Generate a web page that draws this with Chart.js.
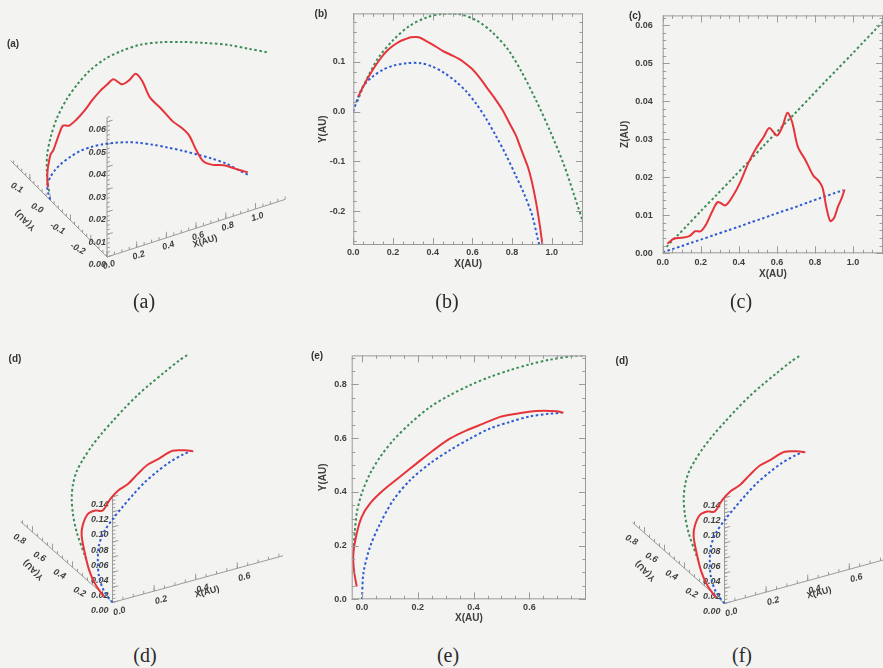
<!DOCTYPE html>
<html><head><meta charset="utf-8">
<script src="https://cdn.jsdelivr.net/npm/chart.js@4"></script>
<style>
html,body{margin:0;padding:0;background:#f3f3f1;width:883px;height:668px;overflow:hidden;position:relative}
canvas{position:absolute}
.cap{position:absolute;font-family:"Liberation Serif","DejaVu Serif",serif;font-size:20px;color:#2a2a2a;transform:translate(-50%,-50%);white-space:nowrap}
.pl{position:absolute;font-family:"Liberation Sans",Arial,sans-serif;font-weight:bold;font-size:10px;color:#333;transform:translate(-50%,-50%);white-space:nowrap}
</style></head><body>
<canvas id="ca" width="290" height="290" style="left:0;top:0"></canvas>
<canvas id="cb" width="290" height="280" style="left:300px;top:0"></canvas>
<canvas id="cc" width="288" height="285" style="left:595px;top:0"></canvas>
<canvas id="cd" width="290" height="290" style="left:0;top:340px"></canvas>
<canvas id="ce" width="295" height="290" style="left:295px;top:345px"></canvas>
<canvas id="cf" width="290" height="290" style="left:612px;top:341px"></canvas>
<div class="pl" style="left:13px;top:43px">(a)</div>
<div class="pl" style="left:321px;top:13px">(b)</div>
<div class="pl" style="left:635px;top:15px">(c)</div>
<div class="pl" style="left:15px;top:358px">(d)</div>
<div class="pl" style="left:317px;top:355px">(e)</div>
<div class="pl" style="left:622px;top:360px">(d)</div>
<div class="cap" style="left:144px;top:301px">(a)</div>
<div class="cap" style="left:447px;top:301px">(b)</div>
<div class="cap" style="left:741px;top:301px">(c)</div>
<div class="cap" style="left:145px;top:655px">(d)</div>
<div class="cap" style="left:448px;top:655px">(e)</div>
<div class="cap" style="left:742px;top:655px">(f)</div>
<script>
// ================= DATA =================
// Event 1 (panels a, b, c): X, Y, Z in AU
const ev1RedX = [0.025,0.06,0.1,0.14,0.17,0.2,0.23,0.26,0.29,0.33,0.37,0.41,0.45,0.49,0.53,0.56,0.6,0.63,0.655,0.68,0.71,0.75,0.79,0.82,0.84,0.86,0.88,0.9,0.92,0.94,0.955];
const ev1RedY = [0.03,0.058,0.085,0.108,0.122,0.132,0.14,0.145,0.149,0.149,0.141,0.132,0.122,0.114,0.106,0.098,0.085,0.071,0.058,0.044,0.028,0.004,-0.026,-0.049,-0.07,-0.091,-0.112,-0.142,-0.181,-0.23,-0.275];
const ev1RedZ = [0.0025,0.0039,0.0041,0.0045,0.0058,0.0058,0.0078,0.011,0.0135,0.0126,0.0152,0.019,0.0238,0.0276,0.0306,0.033,0.031,0.0335,0.037,0.0345,0.028,0.0245,0.0205,0.019,0.0172,0.012,0.0085,0.0093,0.0122,0.0145,0.0168];

const ev1BlueX = [0,0.02,0.05,0.1,0.15,0.2,0.27,0.34,0.4,0.46,0.52,0.57,0.62,0.67,0.72,0.77,0.82,0.86,0.9,0.93,0.948];
const ev1BlueY = [0,0.024,0.051,0.071,0.084,0.092,0.097,0.097,0.09,0.077,0.059,0.04,0.015,-0.015,-0.05,-0.088,-0.13,-0.165,-0.207,-0.257,-0.285];
const ev1BlueZ = [0.0003,0.0006,0.0011,0.0019,0.0028,0.0036,0.0048,0.006,0.007,0.0081,0.0091,0.01,0.0109,0.0117,0.0126,0.0135,0.0144,0.0151,0.0158,0.0163,0.0166];

const ev1GreenX = [0.02,0.05,0.08,0.13,0.2,0.28,0.37,0.45,0.53,0.62,0.7,0.78,0.85,0.92,0.99,1.06,1.11,1.16];
const ev1GreenY = [0.02,0.05,0.075,0.11,0.143,0.171,0.189,0.196,0.196,0.183,0.159,0.124,0.078,0.023,-0.038,-0.106,-0.165,-0.225];
const ev1GreenZ = [0.0017,0.0033,0.0048,0.0074,0.0111,0.0152,0.0199,0.0241,0.0283,0.033,0.0371,0.0413,0.045,0.0486,0.0522,0.0559,0.0585,0.0612];

// Event 2 (panels d, e, f)
const ev2RedX = [-0.019,-0.029,-0.031,-0.019,-0.001,0.029,0.076,0.136,0.196,0.256,0.315,0.375,0.435,0.495,0.554,0.626,0.698,0.722];
const ev2RedY = [0.047,0.109,0.171,0.245,0.307,0.357,0.406,0.456,0.506,0.555,0.598,0.629,0.654,0.679,0.691,0.701,0.7,0.694];
const ev2RedZ = [0.004,0.013,0.026,0.043,0.054,0.059,0.064,0.0585,0.048,0.053,0.055,0.055,0.061,0.066,0.068,0.072,0.067,0.065];

const ev2BlueX = [0,0.005,0.029,0.065,0.112,0.172,0.244,0.315,0.387,0.459,0.53,0.602,0.674,0.716];
const ev2BlueY = [0,0.097,0.196,0.282,0.369,0.443,0.506,0.555,0.598,0.636,0.66,0.681,0.691,0.694];
const ev2BlueZ = [0,0.004,0.01,0.017,0.024,0.029,0.033,0.038,0.044,0.05,0.056,0.061,0.065,0.066];

const ev2GreenX = [-0.03,-0.019,-0.001,0.029,0.065,0.112,0.172,0.244,0.315,0.387,0.459,0.53,0.602,0.674,0.757,0.799];
const ev2GreenY = [0.2,0.32,0.394,0.468,0.53,0.592,0.654,0.716,0.76,0.797,0.828,0.853,0.875,0.892,0.906,0.908];
const ev2GreenZ = [0.036,0.058,0.072,0.082,0.09,0.096,0.1,0.105,0.112,0.119,0.127,0.135,0.142,0.149,0.158,0.162];

// Tick values
const bXTicks = [0.0,0.2,0.4,0.6,0.8,1.0];
const bYTicks = [-0.2,-0.1,0.0,0.1];
const cXTicks = [0.0,0.2,0.4,0.6,0.8,1.0];
const cYTicks = [0.00,0.01,0.02,0.03,0.04,0.05,0.06];
const eXTicks = [0.0,0.2,0.4,0.6];
const eYTicks = [0.0,0.2,0.4,0.6,0.8];
const aXTicks = [0.0,0.2,0.4,0.6,0.8,1.0];
const aYTicks = [-0.2,-0.1,0.0,0.1];
const aZTicks = [0.00,0.01,0.02,0.03,0.04,0.05,0.06];
const dXTicks = [0.0,0.2,0.4,0.6];
const dYTicks = [0.2,0.4,0.6,0.8];
const dZTicks = [0.00,0.02,0.04,0.06,0.08,0.10,0.12,0.14];

// ================= STYLE =================
const RED='#e5343a', BLUE='#2f5bd2', GREEN='#3d8c58';
const AXC='#9b9b9b', TXT='#3f3f3f';
const SANS='"Liberation Sans", Arial, sans-serif';
function fmt(v,d){ return Math.abs(v)<1e-9?(0).toFixed(d):v.toFixed(d); }
function pts(xs,ys){ return xs.map((v,i)=>({x:v,y:ys[i]})); }
function redDs(data){return {data,borderColor:RED,borderWidth:2,pointRadius:0,tension:0.3,showLine:true,fill:false};}
function dotDs(data,c){return {data,borderColor:c,borderWidth:2,borderDash:[2.5,2.5],pointRadius:0,tension:0.3,showLine:true,fill:false};}

// ---------- 2D frame with inward ticks on four sides ----------
const FRAMES = {};
const framePlugin = {
  id:'frame2d',
  afterDraw(chart){
    const o = FRAMES[chart.canvas.id]; if(!o) return;
    const {ctx, chartArea:a} = chart; const sx=chart.scales.x, sy=chart.scales.y;
    ctx.save(); ctx.strokeStyle=AXC; ctx.lineWidth=1;
    const L=(x1,y1,x2,y2)=>{ctx.beginPath();ctx.moveTo(x1,y1);ctx.lineTo(x2,y2);ctx.stroke();};
    ctx.strokeRect(a.left+0.5,a.top+0.5,a.width-1,a.height-1);
    const xt=(v,len)=>{const p=Math.round(sx.getPixelForValue(v))+0.5; if(p<a.left||p>a.right) return; L(p,a.bottom,p,a.bottom-len); L(p,a.top,p,a.top+len);};
    const yt=(v,len)=>{const p=Math.round(sy.getPixelForValue(v))+0.5; if(p<a.top-0.5||p>a.bottom+0.5) return; L(a.left,p,a.left+len,p); L(a.right,p,a.right-len,p);};
    const st=(mn,mx,step,f,len)=>{ for(let k=Math.ceil(mn/step-1e-6);k*step<=mx+1e-9;k++) f(k*step,len); };
    st(sx.min,sx.max,o.xMinor,xt,3.5); st(sy.min,sy.max,o.yMinor,yt,3.5);
    o.xTicks.forEach(v=>xt(v,7)); o.yTicks.forEach(v=>yt(v,7));
    ctx.restore();
  }
};

function chart2D(id,c){
  FRAMES[id]={xTicks:c.xTicks,yTicks:c.yTicks,xMinor:c.xMinor,yMinor:c.yMinor};
  const tf={family:SANS,weight:'bold',size:9};
  const titleF={family:SANS,weight:'bold',size:10};
  return new Chart(document.getElementById(id),{
    type:'scatter',
    data:{datasets:c.datasets},
    options:{
      responsive:false,animation:false,devicePixelRatio:1,
      layout:{padding:c.pad},
      plugins:{legend:{display:false},tooltip:{enabled:false}},
      scales:{
        x:{type:'linear',min:c.xr[0],max:c.xr[1],grid:{display:false,drawTicks:false},border:{display:false},
          ticks:{font:tf,color:TXT,padding:c.xPad,maxRotation:0,autoSkip:false,callback:v=>fmt(v,c.xDec)},
          afterBuildTicks:s=>{s.ticks=c.xTicks.map(v=>({value:v}));},
          afterFit:s=>{s.height=c.xH;},
          title:{display:true,text:'X(AU)',font:titleF,color:TXT,padding:{top:0,bottom:c.xTitlePad}}},
        y:{type:'linear',min:c.yr[0],max:c.yr[1],grid:{display:false,drawTicks:false},border:{display:false},
          ticks:{font:tf,color:TXT,padding:c.yPad,autoSkip:false,callback:v=>fmt(v,c.yDec)},
          afterBuildTicks:s=>{s.ticks=c.yTicks.map(v=>({value:v}));},
          afterFit:s=>{s.width=c.yW;},
          title:{display:true,text:c.yTitle,font:titleF,color:TXT,padding:{top:c.yTitlePad,bottom:0}}}
      }
    },
    plugins:[framePlugin]
  });
}

// ---------- 3D axes drawn through the chart's own scales ----------
const VIEWS = {};
const axes3D = {
  id:'axes3d',
  beforeDatasetsDraw(chart){
    const o=VIEWS[chart.canvas.id]; if(!o) return;
    const {ctx}=chart; const sx=chart.scales.x, sy=chart.scales.y;
    const P=(x,y,z)=>{const v=o.proj(x,y,z);return [sx.getPixelForValue(v[0]),sy.getPixelForValue(v[1])];};
    const L=(a,b)=>{ctx.beginPath();ctx.moveTo(a[0],a[1]);ctx.lineTo(b[0],b[1]);ctx.stroke();};
    const [x0,x1]=o.xr,[y0,y1]=o.yr,[z0,z1]=o.zr;
    ctx.save(); ctx.strokeStyle=AXC; ctx.lineWidth=1;
    L(P(x0,y0,z0),P(x1,y0,z0)); L(P(x0,y0,z0),P(x0,y1,z0)); L(P(x0,y0,z0),P(x0,y0,z1));
    const dir=(a,b)=>{const dx=b[0]-a[0],dy=b[1]-a[1],n=Math.hypot(dx,dy)||1;return [dx/n,dy/n];};
    const upZ=dir(P(0,0,0),P(0,0,1)), upX=dir(P(0,0,0),P(1,0,0));
    const tick=(p,d,len)=>L(p,[p[0]+d[0]*len,p[1]+d[1]*len]);
    const st=(mn,mx,step,f)=>{for(let k=Math.ceil(mn/step-1e-6);k*step<=mx+1e-9;k++) f(k*step);};
    st(x0,x1,o.xMinor,v=>tick(P(v,y0,z0),upZ,3)); o.xTicks.forEach(v=>tick(P(v,y0,z0),upZ,6));
    st(y0,y1,o.yMinor,v=>tick(P(x0,v,z0),upZ,3)); o.yTicks.forEach(v=>tick(P(x0,v,z0),upZ,6));
    st(z0,z1,o.zMinor,v=>tick(P(x0,y0,v),upX,3)); o.zTicks.forEach(v=>tick(P(x0,y0,v),upX,6));
    ctx.fillStyle=TXT; ctx.textBaseline='middle';
    const txt=(s,p,dx,dy,rot,align,font)=>{ctx.save();ctx.translate(p[0]+dx,p[1]+dy);ctx.rotate(rot*Math.PI/180);ctx.textAlign=align;ctx.font=font;ctx.fillText(s,0,0);ctx.restore();};
    const lf='italic bold 9px '+SANS;
    const xa=Math.atan2(P(1,y0,z0)[1]-P(0,y0,z0)[1],P(1,y0,z0)[0]-P(0,y0,z0)[0])*180/Math.PI;
    o.xTicks.forEach(v=>txt(fmt(v,1),P(v,y0,z0),o.xLab[0],o.xLab[1],xa,'center',lf));
    o.yTicks.forEach(v=>txt(fmt(v,1),P(x0,v,z0),o.yLab[0],o.yLab[1],28,'center',lf));
    o.zTicks.forEach(v=>txt(fmt(v,2),P(x0,y0,v),o.zLab[0],o.zLab[1],0,'right',lf));
    const tf='bold 9px '+SANS;
    txt('X(AU)',P(o.xTitleAt,y0,z0),o.xTitle[0],o.xTitle[1],xa,'center',tf);
    txt('Y(AU)',P(x0,o.yTitleAt,z0),o.yTitle[0],o.yTitle[1],225,'center',tf);
    ctx.restore();
  }
};

function chart3D(id,c){
  VIEWS[id]=c;
  const ds=c.curves.map(cv=>{
    const data=cv.x.map((v,i)=>{const p=c.proj(v,cv.y[i],cv.z[i]);return {x:p[0],y:p[1]};});
    const d=cv.dotted?dotDs(data,cv.color):redDs(data); d.clip=false; return d;
  });
  return new Chart(document.getElementById(id),{
    type:'scatter',
    data:{datasets:ds},
    options:{
      responsive:false,animation:false,devicePixelRatio:1,
      layout:{padding:0},
      plugins:{legend:{display:false},tooltip:{enabled:false}},
      scales:{x:{type:'linear',display:false,min:0,max:c.w},y:{type:'linear',display:false,min:0,max:c.h,reverse:true}}
    },
    plugins:[axes3D]
  });
}

// ================= PANEL (b): X-Y =================
chart2D('cb',{
  datasets:[redDs(pts(ev1RedX,ev1RedY)),dotDs(pts(ev1BlueX,ev1BlueY),BLUE),dotDs(pts(ev1GreenX,ev1GreenY),GREEN)],
  xr:[0,1.157],yr:[-0.268,0.197],xTicks:bXTicks,yTicks:bYTicks,xMinor:0.05,yMinor:0.02,xDec:1,yDec:1,
  pad:{top:7,right:7,left:0,bottom:0},xH:35,yW:53.3,xPad:2,yPad:8,xTitlePad:10,yTitle:'Y(AU)',yTitlePad:17
});
// ================= PANEL (c): X-Z =================
chart2D('cc',{
  datasets:[redDs(pts(ev1RedX,ev1RedZ)),dotDs(pts(ev1BlueX,ev1BlueZ),BLUE),dotDs(pts(ev1GreenX,ev1GreenZ),GREEN)],
  xr:[0,1.157],yr:[0,0.0626],xTicks:cXTicks,yTicks:cYTicks,xMinor:0.05,yMinor:0.002,xDec:1,yDec:2,
  pad:{top:13.3,right:0,left:0,bottom:0},xH:31.7,yW:67.7,xPad:4,yPad:10,xTitlePad:5,yTitle:'Z(AU)',yTitlePad:24
});
// ================= PANEL (e): X-Y =================
chart2D('ce',{
  datasets:[redDs(pts(ev2RedX,ev2RedY)),dotDs(pts(ev2BlueX,ev2BlueY),BLUE),dotDs(pts(ev2GreenX,ev2GreenY),GREEN)],
  xr:[-0.037,0.803],yr:[0,0.908],xTicks:eXTicks,yTicks:eYTicks,xMinor:0.05,yMinor:0.05,xDec:1,yDec:1,
  pad:{top:10,right:4,left:0,bottom:0},xH:35.7,yW:56.7,xPad:3,yPad:5,xTitlePad:11,yTitle:'Y(AU)',yTitlePad:22
});
// ================= PANEL (a): 3D =================
chart3D('ca',{
  w:290,h:290,
  proj:(x,y,z)=>[107+148.5*x-203*(y+0.28), 257-48*x-203*(y+0.28)-2250*z],
  curves:[{x:ev1RedX,y:ev1RedY,z:ev1RedZ,color:RED},{x:ev1BlueX,y:ev1BlueY,z:ev1BlueZ,color:BLUE,dotted:true},{x:ev1GreenX,y:ev1GreenY,z:ev1GreenZ,color:GREEN,dotted:true}],
  xr:[0,1.2],yr:[-0.28,0.195],zr:[0,0.062],
  xTicks:aXTicks,yTicks:aYTicks,zTicks:aZTicks,xMinor:0.05,yMinor:0.02,zMinor:0.002,
  xLab:[2,8],yLab:[-13,8],zLab:[-1,8],xTitleAt:0.6,xTitle:[9,13],yTitleAt:-0.05,yTitle:[-35,10]
});
// ================= PANELS (d) and (f): 3D =================
function ev2View(){ return {
  w:290,h:290,
  proj:(x,y,z)=>[112.5+208*x-100*y, 262.5-57*x-88*y-755*z],
  curves:[{x:ev2RedX,y:ev2RedY,z:ev2RedZ,color:RED},{x:ev2BlueX,y:ev2BlueY,z:ev2BlueZ,color:BLUE,dotted:true},{x:ev2GreenX,y:ev2GreenY,z:ev2GreenZ,color:GREEN,dotted:true}],
  xr:[0,0.82],yr:[0,0.92],zr:[0,0.14],
  xTicks:dXTicks,yTicks:dYTicks,zTicks:dZTicks,xMinor:0.05,yMinor:0.05,zMinor:0.005,
  xLab:[7,9],yLab:[-13,7],zLab:[-4,8],xTitleAt:0.45,xTitle:[1,15],yTitleAt:0.45,yTitle:[-34,7]
};}
chart3D('cd',ev2View());
chart3D('cf',ev2View());
</script>
</body></html>
